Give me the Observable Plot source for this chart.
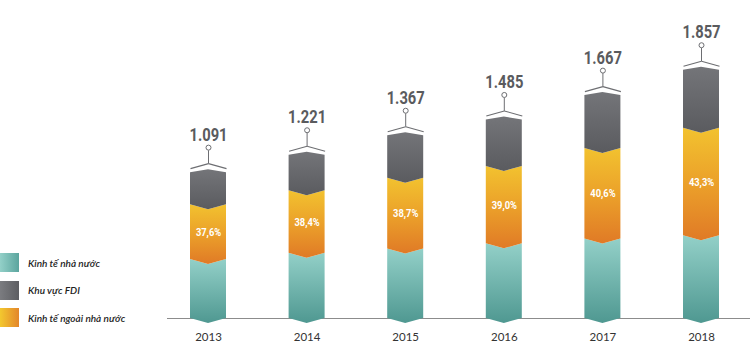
<!DOCTYPE html>
<html><head><meta charset="utf-8">
<script src="https://cdn.jsdelivr.net/npm/d3@7"></script>
<script src="https://cdn.jsdelivr.net/npm/@observablehq/plot@0.6"></script>
<style>
body{margin:0;background:#fff;}
#wrap{position:relative;width:750px;height:351px;overflow:hidden;}
#legend{position:absolute;left:0;top:253px;font-family:Lato,"Open Sans",sans-serif;font-style:italic;font-weight:600;font-size:10px;color:#222;}
.row{display:flex;align-items:center;height:19px;margin-bottom:8.5px;}
.sw{width:19px;height:19px;margin-right:9px;}
</style></head><body>
<div id="wrap"><div id="chart"></div><div id="legend"></div></div>
<script>
// ---- data ----
const years = ["2013","2014","2015","2016","2017","2018"];
const totals = [1.091, 1.221, 1.367, 1.485, 1.667, 1.857];
const totalLabels = ["1.091","1.221","1.367","1.485","1.667","1.857"];
const stateShare = [40.4, 39.9, 38.0, 37.6, 35.7, 33.3];
const nonStateShare = [37.6, 38.4, 38.7, 39.0, 40.6, 43.3];
const fdiShare = [22.0, 21.7, 23.3, 23.4, 23.7, 23.4];
const nonStateLabels = ["37,6%","38,4%","38,7%","39,0%","40,6%","43,3%"];
const seriesNames = ["Kinh tế nhà nước", "Khu vực FDI", "Kinh tế ngoài nhà nước"];

// ---- layout (pixels) ----
const X_FIRST = 208, X_LAST = 701, BASE = 318, PX_PER_UNIT = 133.7;
const u = 1 / PX_PER_UNIT;                 // data units per pixel (y)
const w = 18 / ((X_LAST - X_FIRST) / 5);    // half bar width in x units
const V = 5, P = 3;                         // chevron depths in px

const stack = [
  {share: stateShare, fill: "url(#gTeal)"},
  {share: nonStateShare, fill: "url(#gOrange)"},
  {share: fdiShare, fill: "url(#gGray)"}
];
const areaData = stack.map(() => []);
const labelData = [];
years.forEach((yr, i) => {
  const sum = stateShare[i] + nonStateShare[i] + fdiShare[i];
  let base = 0;
  stack.forEach((s, k) => {
    const v = totals[i] * s.share[i] / sum;
    const top = base + v;
    const isTop = k === stack.length - 1;
    areaData[k].push({key: i, x: i - w, y1: base, y2: top});
    areaData[k].push({key: i, x: i, y1: base - V * u, y2: isTop ? top + P * u : top - V * u});
    areaData[k].push({key: i, x: i + w, y1: base, y2: top});
    if (k === 1) labelData.push({x: i, y: (base + top) / 2, text: nonStateLabels[i]});
    base = top;
  });
});
const capData = years.map((yr, i) => ({i, t: totals[i], label: totalLabels[i], year: yr}));

const svg = Plot.plot({
  width: 750, height: 351,
  marginLeft: 167, marginRight: 0, marginTop: 0, marginBottom: 33,
  x: {domain: [0, 5], range: [X_FIRST, X_LAST], axis: null},
  y: {domain: [0, 2], range: [BASE, BASE - 2 * PX_PER_UNIT], axis: null},
  marks: [
    Plot.ruleY([0], {stroke: "#8c8c8c", strokeWidth: 1}),
    ...areaData.map((d, k) => Plot.areaY(d, {x: "x", y1: "y1", y2: "y2", z: "key", fill: stack[k].fill})),
    Plot.text(labelData, {x: "x", y: "y", text: "text", fill: "white", fontSize: 11, fontWeight: "bold", fontFamily: "Roboto, sans-serif", strokeOpacity: 0.85}),
    Plot.link(capData, {x1: d => d.i - w, y1: d => d.t + 4 * u, x2: d => d.i, y2: d => d.t + 9 * u, stroke: "#6d6e72", strokeWidth: 1.1}),
    Plot.link(capData, {x1: d => d.i + w, y1: d => d.t + 4 * u, x2: d => d.i, y2: d => d.t + 9 * u, stroke: "#6d6e72", strokeWidth: 1.1}),
    Plot.link(capData, {x1: "i", x2: "i", y1: d => d.t + 9 * u, y2: d => d.t + 22.5 * u, stroke: "#6d6e72", strokeWidth: 1}),
    Plot.dot(capData, {x: "i", y: d => d.t + 25 * u, r: 2.5, stroke: "#6d6e72", fill: "white", strokeWidth: 1}),
    Plot.text(capData, {x: "i", y: "t", dy: -32, text: "label", lineAnchor: "bottom", fontSize: 18, fontWeight: "bold", fill: "#5a5b5e", fontFamily: "Roboto, sans-serif", strokeOpacity: 0.82}),
    Plot.text(capData, {x: "i", y: 0, dy: 19, text: "year", fontSize: 11.5, fill: "#333", fontFamily: "Lato, sans-serif"})
  ]
});

// condense the bold labels horizontally (scale factor stored in strokeOpacity attr of their group)
d3.select(svg).selectAll('g[font-family^="Roboto"]').each(function() {
  const g = d3.select(this);
  const k = +g.attr("stroke-opacity") || 1;
  g.attr("stroke-opacity", null);
  g.selectAll("text").each(function() {
    const t = d3.select(this);
    t.attr("transform", (t.attr("transform") || "") + ` scale(${k},1)`);
  });
});

const defs = d3.select(svg).insert("defs", ":first-child");
function grad(id, stops) {
  const g = defs.append("linearGradient").attr("id", id).attr("x1", 0).attr("y1", 0).attr("x2", 0).attr("y2", 1);
  stops.forEach(([o, c]) => g.append("stop").attr("offset", o).attr("stop-color", c));
}
grad("gTeal", [[0, "#93d0c8"], [1, "#4f9891"]]);
grad("gOrange", [[0, "#f2c22f"], [0.5, "#eba02a"], [1, "#e07a26"]]);
grad("gGray", [[0, "#747579"], [1, "#5a5b5f"]]);

document.getElementById("chart").appendChild(svg);

const legendFills = [
  "linear-gradient(to right, #93d0c8, #5ba59e)",
  "linear-gradient(to right, #7b7c80, #5d5e62)",
  "linear-gradient(to right, #f3c82f, #e3862a)"
];
const legend = d3.select("#legend");
seriesNames.forEach((name, k) => {
  const row = legend.append("div").attr("class", "row");
  row.append("div").attr("class", "sw").style("background", legendFills[k]);
  row.append("span").text(name);
});
</script>
</body></html>
